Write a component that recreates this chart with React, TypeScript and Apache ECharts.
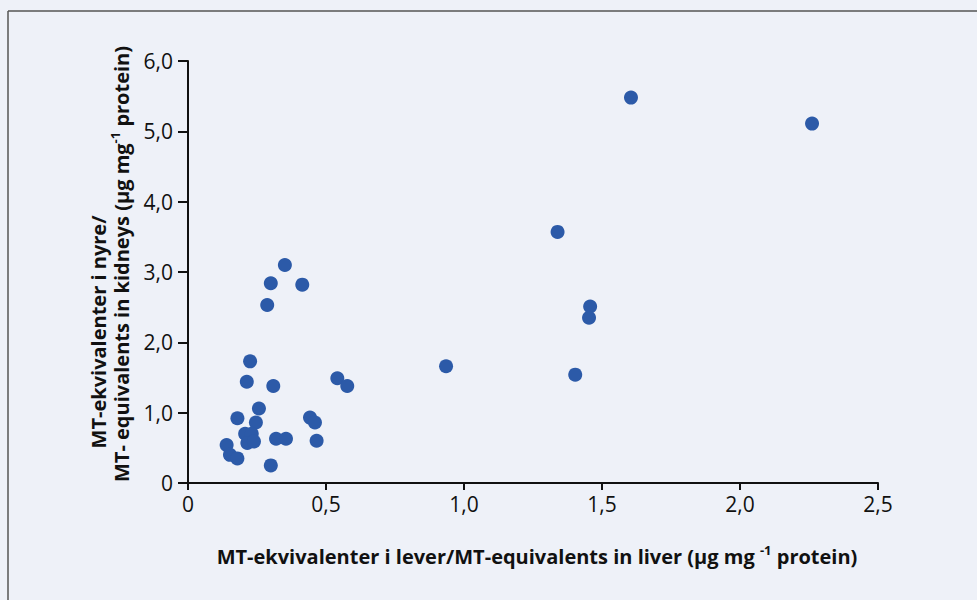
import React, { useEffect, useRef } from "react";
import * as echarts from "echarts";

const liverValues: number[] = [
  0.351, 0.30, 0.414, 0.287, 0.225, 0.213, 0.309, 0.541, 0.577, 0.257,
  0.179, 0.246, 0.442, 0.46, 0.207, 0.231, 0.215, 0.239, 0.319, 0.355,
  0.466, 0.14, 0.152, 0.179, 0.30, 1.605, 2.261, 1.339, 1.457, 1.453,
  1.403, 0.935,
];
const kidneyValues: number[] = [
  3.10, 2.84, 2.82, 2.53, 1.73, 1.44, 1.38, 1.49, 1.38, 1.06,
  0.92, 0.86, 0.93, 0.86, 0.70, 0.70, 0.57, 0.59, 0.63, 0.63,
  0.60, 0.54, 0.40, 0.35, 0.25, 5.48, 5.11, 3.57, 2.51, 2.35,
  1.54, 1.66,
];
const xTickValues: number[] = [0, 0.5, 1.0, 1.5, 2.0, 2.5];
const yTickValues: number[] = [0, 1, 2, 3, 4, 5, 6];

const fmt = (v: number) => (v === 0 ? "0" : v.toFixed(1).replace(".", ","));

export default function App() {
  const ref = useRef<HTMLDivElement>(null);
  useEffect(() => {
    if (!ref.current) return;
    const chart = echarts.init(ref.current, null, { renderer: "svg" });
    const data = liverValues.map((x, i) => [x, kidneyValues[i]]);
    const font = "'Open Sans', 'Noto Sans', sans-serif";
    const supStyle = { fontSize: 13, fontWeight: "bold", fontFamily: font, padding: [0, 0, 12, 0], fill: "#111" };
    chart.setOption({
      animation: false,
      backgroundColor: "#eef1f8",
      grid: { left: 188, top: 61, right: 99, bottom: 117 },
      xAxis: {
        type: "value",
        min: xTickValues[0],
        max: xTickValues[xTickValues.length - 1],
        interval: 0.5,
        splitLine: { show: false },
        axisLine: { show: true, lineStyle: { color: "#111", width: 2 } },
        axisTick: { show: true, length: 7, lineStyle: { color: "#111", width: 2 } },
        axisLabel: { formatter: fmt, color: "#111", fontSize: 21, fontWeight: 500, fontFamily: font, margin: 10 },
      },
      yAxis: {
        type: "value",
        min: yTickValues[0],
        max: yTickValues[yTickValues.length - 1],
        interval: 1,
        splitLine: { show: false },
        axisLine: { show: true, lineStyle: { color: "#111", width: 2 } },
        axisTick: { show: true, length: 10, lineStyle: { color: "#111", width: 2 } },
        axisLabel: { formatter: fmt, color: "#111", fontSize: 21, fontWeight: 500, fontFamily: font, margin: 15 },
      },
      series: [
        {
          type: "scatter",
          data,
          symbol: "circle",
          symbolSize: 14,
          itemStyle: { color: "#2c5aa8", opacity: 1 },
        },
      ],
      graphic: [
        {
          type: "line",
          shape: { x1: 8, y1: 11, x2: 977, y2: 11 },
          style: { stroke: "#555", lineWidth: 1.5 },
        },
        {
          type: "line",
          shape: { x1: 8, y1: 11, x2: 8, y2: 600 },
          style: { stroke: "#555", lineWidth: 1.5 },
        },
        {
          type: "text",
          x: 537,
          y: 556,
          style: {
            text: "MT-ekvivalenter i lever/MT-equivalents in liver (μg mg {sup|-1} protein)",
            font: `bold 20px ${font}`,
            fill: "#111",
            align: "center",
            verticalAlign: "middle",
            rich: { sup: supStyle },
          },
        },
        {
          type: "text",
          x: 98,
          y: 332,
          rotation: Math.PI / 2,
          style: {
            text: "MT-ekvivalenter i nyre/",
            font: `bold 20px ${font}`,
            fill: "#111",
            align: "center",
            verticalAlign: "middle",
          },
        },
        {
          type: "text",
          x: 121,
          y: 264,
          rotation: Math.PI / 2,
          style: {
            text: "MT- equivalents in kidneys (μg mg{sup|-1} protein)",
            font: `bold 20px ${font}`,
            fill: "#111",
            align: "center",
            verticalAlign: "middle",
            rich: { sup: supStyle },
          },
        },
      ],
    });
    return () => chart.dispose();
  }, []);
  return (
    <div
      ref={ref}
      style={{ position: "fixed", left: 0, top: 0, width: 977, height: 600 }}
    />
  );
}
